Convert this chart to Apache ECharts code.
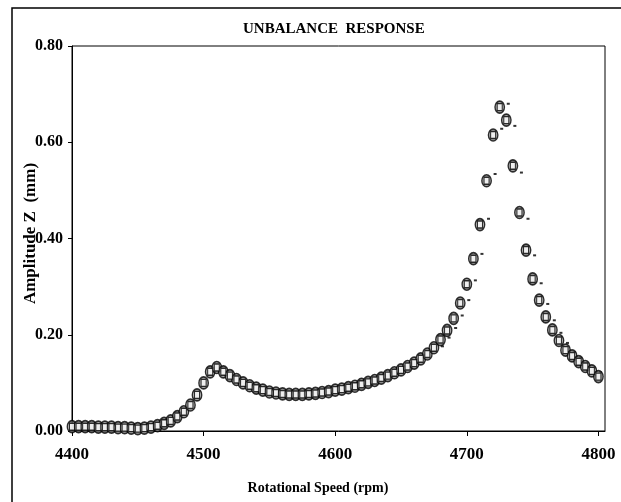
<!DOCTYPE html>
<html>
<head>
<meta charset="utf-8">
<script src="https://cdn.jsdelivr.net/npm/echarts@6/dist/echarts.min.js"></script>
<style>
html,body{margin:0;padding:0;background:#fff;}
#chart{width:621px;height:502px;}
</style>
</head>
<body>
<div id="chart"></div>
<script>
// Rotational speed (rpm) of measured points
const speedRpm = [4400,4405,4410,4415,4420,4425,4430,4435,4440,4445,4450,4455,4460,4465,4470,4475,4480,4485,4490,4495,
  4500,4505,4510,4515,4520,4525,4530,4535,4540,4545,4550,4555,4560,4565,4570,4575,4580,4585,4590,4595,
  4600,4605,4610,4615,4620,4625,4630,4635,4640,4645,4650,4655,4660,4665,4670,4675,4680,4685,4690,4695,
  4700,4705,4710,4715,4720,4725,4730,4735,4740,4745,4750,4755,4760,4765,4770,4775,4780,4785,4790,4795,4800];
// Amplitude Z (mm), circle series
const ampCircle = [0.009,0.009,0.009,0.009,0.008,0.008,0.008,0.007,0.007,0.006,0.005,0.006,0.008,0.011,0.016,0.021,0.030,0.040,0.054,0.075,
  0.100,0.123,0.132,0.123,0.115,0.107,0.100,0.094,0.089,0.085,0.081,0.079,0.077,0.076,0.076,0.076,0.077,0.078,0.080,0.082,
  0.085,0.087,0.090,0.093,0.097,0.101,0.105,0.110,0.115,0.121,0.127,0.134,0.141,0.150,0.160,0.173,0.190,0.209,0.234,0.266,
  0.305,0.358,0.429,0.520,0.615,0.673,0.646,0.551,0.454,0.376,0.316,0.272,0.237,0.210,0.188,0.168,0.156,0.144,0.134,0.125,0.113];
// Amplitude Z (mm), square series
const ampSquare = [0.009,0.009,0.009,0.009,0.008,0.008,0.008,0.007,0.007,0.006,0.005,0.006,0.008,0.011,0.016,0.021,0.030,0.040,0.054,0.075,
  0.100,0.123,0.132,0.123,0.115,0.107,0.100,0.094,0.089,0.085,0.081,0.079,0.077,0.076,0.076,0.076,0.077,0.078,0.080,0.082,
  0.085,0.087,0.090,0.093,0.097,0.101,0.105,0.110,0.115,0.121,0.127,0.134,0.141,0.150,0.160,0.173,0.190,0.209,0.234,0.266,
  0.305,0.358,0.429,0.520,0.615,0.673,0.646,0.551,0.454,0.376,0.316,0.272,0.237,0.210,0.188,0.168,0.156,0.144,0.134,0.125,0.113];
// Dash series (visible around the main resonance)
const dashRpm = [4681.5,4686.5,4691.5,4696.5,4701.5,4706.5,4711.5,4716.5,4721.5,4726.5,4731.5,4736.5,4741.5,4746.5,4751.5,4756.5,4761.5,4766.5,4771.5,4776.5,4781.5,4786.5,4791.5,4796.5,4801.5];
const dashAmp = [0.176,0.194,0.214,0.240,0.272,0.313,0.368,0.441,0.534,0.628,0.680,0.634,0.537,0.441,0.365,0.307,0.264,0.230,0.204,0.183,0.164,0.152,0.140,0.131,0.122];
const xTicks = [4400,4500,4600,4700,4800];

const pairs = (xs, ys) => xs.map((x, i) => [x, ys[i]]);
const serif = '"Liberation Serif","Times New Roman",serif';

const chart = echarts.init(document.getElementById('chart'), null, {renderer:'canvas'});
chart.setOption({
  animation: false,
  backgroundColor: '#fff',
  title: {
    text: 'UNBALANCE  RESPONSE',
    left: 238, top: 17,
    textStyle: {fontFamily: serif, fontWeight: 'bold', fontSize: 15, color: '#000'}
  },
  graphic: [{
    type: 'rect', shape: {x: 12, y: 8, width: 700, height: 600},
    style: {fill: 'none', stroke: '#000', lineWidth: 1.5}, silent: true
  }],
  grid: {left: 72, top: 46, right: 16, bottom: 71, show: true, borderColor: '#000', borderWidth: 1, backgroundColor: 'transparent'},
  xAxis: {
    type: 'value', min: 4400, max: 4805,
    name: 'Rotational Speed (rpm)', nameLocation: 'middle', nameGap: 50,
    nameTextStyle: {fontFamily: serif, fontWeight: 'bold', fontSize: 14, color: '#000', padding: [0, 41, 0, 0]},
    axisLine: {lineStyle: {color: '#000', width: 1}},
    axisTick: {show: true, length: 5, lineStyle: {color: '#000'}, customValues: xTicks},
    axisLabel: {fontFamily: serif, fontWeight: 'bold', fontSize: 17, color: '#000', margin: 15, customValues: xTicks,
      formatter: v => String(v)},
    splitLine: {show: false}
  },
  yAxis: {
    type: 'value', min: 0, max: 0.8, interval: 0.2,
    name: 'Amplitude Z  (mm)', nameLocation: 'middle', nameGap: 33, nameMoveOverlap: false,
    nameTextStyle: {fontFamily: serif, fontWeight: 'bold', fontSize: 17, color: '#000', padding: [0, 0, 0, 10]},
    axisLine: {show: true, lineStyle: {color: '#000', width: 1}},
    axisTick: {show: true, length: 4, lineStyle: {color: '#000'}},
    axisLabel: {fontFamily: serif, fontWeight: 'bold', fontSize: 16, color: '#000', margin: 9,
      formatter: v => v.toFixed(2)},
    splitLine: {show: false}
  },
  series: [
    {
      type: 'scatter', name: 'dash', z: 2,
      data: pairs(dashRpm, dashAmp),
      symbol: 'rect', symbolSize: [3, 2],
      itemStyle: {color: '#000'}
    },
    {
      type: 'scatter', name: 'circle', z: 3,
      data: pairs(speedRpm, ampCircle),
      symbol: 'circle', symbolSize: [9.5, 12],
      itemStyle: {color: '#9a9a9a', borderColor: '#000', borderWidth: 1.5}
    },
    {
      type: 'scatter', name: 'square', z: 4,
      data: pairs(speedRpm, ampSquare),
      symbol: 'rect', symbolSize: [5, 7],
      itemStyle: {color: '#fff', borderColor: '#000', borderWidth: 1.2}
    }
  ]
});
</script>
</body>
</html>
